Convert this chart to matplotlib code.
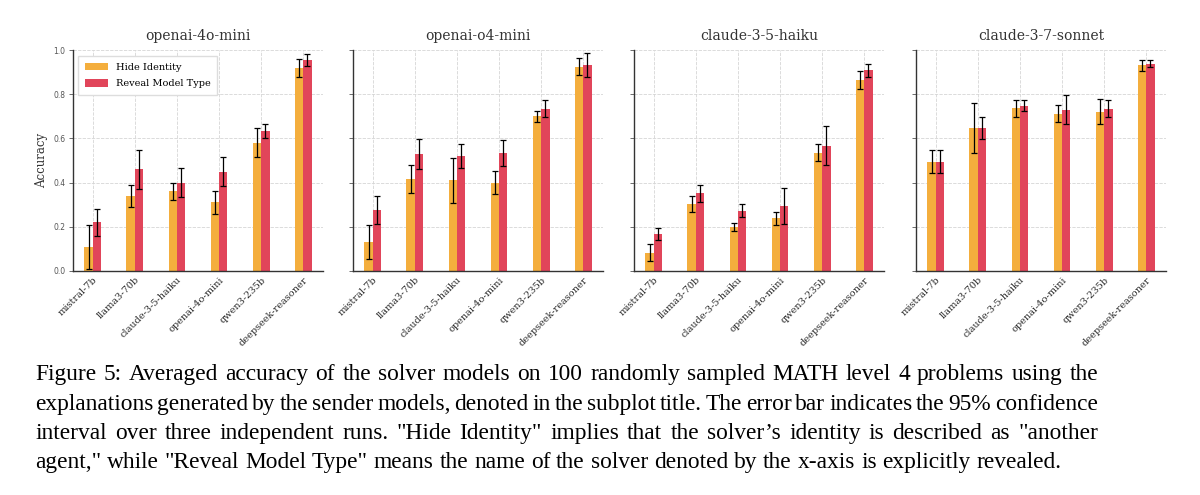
import numpy as np
import matplotlib
matplotlib.use('Agg')
import matplotlib.pyplot as plt

# Solver models (x axis) and sender models (subplot titles)
solvers = ['mistral-7b', 'llama3-70b', 'claude-3-5-haiku', 'openai-4o-mini',
           'qwen3-235b', 'deepseek-reasoner']
senders = ['openai-4o-mini', 'openai-o4-mini', 'claude-3-5-haiku', 'claude-3-7-sonnet']

# Mean accuracy and 95% CI half-width
hide_4o_mini = [0.11, 0.34, 0.36, 0.31, 0.58, 0.92]
hide_4o_mini_err = [0.10, 0.05, 0.04, 0.05, 0.065, 0.04]
reveal_4o_mini = [0.22, 0.46, 0.40, 0.45, 0.635, 0.955]
reveal_4o_mini_err = [0.062, 0.088, 0.067, 0.066, 0.032, 0.028]

hide_o4_mini = [0.13, 0.415, 0.41, 0.40, 0.70, 0.924]
hide_o4_mini_err = [0.077, 0.064, 0.103, 0.051, 0.026, 0.038]
reveal_o4_mini = [0.275, 0.53, 0.52, 0.535, 0.735, 0.932]
reveal_o4_mini_err = [0.064, 0.067, 0.053, 0.059, 0.039, 0.053]

hide_haiku = [0.083, 0.303, 0.20, 0.238, 0.535, 0.864]
hide_haiku_err = [0.039, 0.038, 0.017, 0.031, 0.039, 0.039]
reveal_haiku = [0.167, 0.352, 0.273, 0.294, 0.567, 0.908]
reveal_haiku_err = [0.028, 0.039, 0.028, 0.08, 0.088, 0.029]

hide_sonnet = [0.494, 0.648, 0.736, 0.712, 0.721, 0.932]
hide_sonnet_err = [0.052, 0.113, 0.039, 0.038, 0.058, 0.025]
reveal_sonnet = [0.494, 0.648, 0.748, 0.73, 0.735, 0.938]
reveal_sonnet_err = [0.052, 0.05, 0.026, 0.065, 0.039, 0.015]

hide_all = [hide_4o_mini, hide_o4_mini, hide_haiku, hide_sonnet]
hide_err_all = [hide_4o_mini_err, hide_o4_mini_err, hide_haiku_err, hide_sonnet_err]
reveal_all = [reveal_4o_mini, reveal_o4_mini, reveal_haiku, reveal_sonnet]
reveal_err_all = [reveal_4o_mini_err, reveal_o4_mini_err, reveal_haiku_err, reveal_sonnet_err]

caption_lines = [
    'Figure 5: Averaged accuracy of the solver models on 100 randomly sampled MATH level 4 problems using the',
    'explanations generated by the sender models, denoted in the subplot title. The error bar indicates the 95% confidence',
    'interval over three independent runs.  "Hide Identity" implies that the solver\u2019s identity is described as "another',
    'agent," while "Reveal Model Type" means the name of the solver denoted by the x-axis is explicitly revealed.',
]

hide_color = '#F4AE3D'
reveal_color = '#E1455A'
W, H = 1200, 495

fig = plt.figure(figsize=(12, 4.95), dpi=100)
x = np.arange(len(solvers))
width = 0.2
lefts = [73, 353, 634, 916]

for i, sender in enumerate(senders):
    ax = fig.add_axes([lefts[i] / W, 1 - 271 / H, 250 / W, 221 / H])
    ax.bar(x - width / 2, hide_all[i], width, color=hide_color, label='Hide Identity', zorder=2)
    ax.bar(x + width / 2, reveal_all[i], width, color=reveal_color, label='Reveal Model Type', zorder=2)
    ax.errorbar(x - width / 2, hide_all[i], yerr=hide_err_all[i], fmt='none', ecolor='black',
                elinewidth=0.9, capsize=2, capthick=0.9, zorder=3)
    ax.errorbar(x + width / 2, reveal_all[i], yerr=reveal_err_all[i], fmt='none', ecolor='black',
                elinewidth=0.9, capsize=2, capthick=0.9, zorder=3)
    ax.set_ylim(0, 1.0)
    ax.set_yticks(np.arange(0, 1.01, 0.2))
    ax.set_xticks(x)
    ax.set_xticklabels(solvers, rotation=45, ha='right', rotation_mode='anchor',
                       fontsize=7, family='DejaVu Serif', color='#2b2b2b')
    ax.grid(True, color='#d6d6d6', linestyle=(0, (4, 1.5)), linewidth=0.6, zorder=0)
    ax.set_axisbelow(True)
    for s in ['top', 'right']:
        ax.spines[s].set_visible(False)
    for s in ['left', 'bottom']:
        ax.spines[s].set_color('#333333')
        ax.spines[s].set_linewidth(1.0)
    ax.tick_params(axis='y', labelsize=5.5, colors='#555555', length=3, width=0.6, pad=2.5)
    ax.tick_params(axis='x', length=0, pad=3)
    ax.set_title(sender, fontsize=10, family='DejaVu Serif', color='#333333', pad=7)
    if i == 0:
        ax.set_ylabel('Accuracy', fontsize=8.5, family='DejaVu Serif', color='#333333')
        ax.yaxis.set_label_coords(-0.1, 0.5)
        ax.legend(loc='upper left', prop={'family': 'DejaVu Serif', 'size': 7}, frameon=True,
                  framealpha=1.0, edgecolor='#dddddd', fancybox=False, handlelength=2.4,
                  handleheight=0.8, borderpad=0.7, labelspacing=0.75,
                  bbox_to_anchor=(0.0, 0.995))
    else:
        ax.set_yticklabels([])

# Justified caption, laid out word by word
renderer = fig.canvas.get_renderer()
cap_size = 16.8
x0, x1 = 35, 1098
baselines = [380, 410, 439, 468]


def word_width(word):
    t = fig.text(0, 0, word, fontsize=cap_size, family='Liberation Serif')
    w = t.get_window_extent(renderer).width
    t.remove()
    return w


for k, line in enumerate(caption_lines):
    words = [w for w in line.split(' ') if w]
    widths = [word_width(w) for w in words]
    if k < len(caption_lines) - 1:
        gap = (x1 - x0 - sum(widths)) / (len(words) - 1)
    else:
        gap = word_width('a a') - 2 * word_width('a')
    pos = x0
    for w, ww in zip(words, widths):
        fig.text(pos / W, 1 - baselines[k] / H, w, fontsize=cap_size,
                 family='Liberation Serif', color='black', va='baseline', ha='left')
        pos += ww + gap

fig.savefig('out.png', dpi=100)
